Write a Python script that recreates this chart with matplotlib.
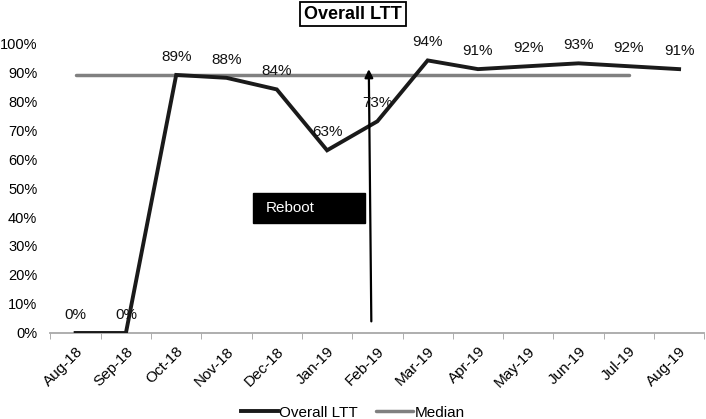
import matplotlib
matplotlib.use("Agg")
import matplotlib.pyplot as plt
from matplotlib.patches import Rectangle
from matplotlib.ticker import FuncFormatter

months = ["Aug-18", "Sep-18", "Oct-18", "Nov-18", "Dec-18", "Jan-19", "Feb-19",
          "Mar-19", "Apr-19", "May-19", "Jun-19", "Jul-19", "Aug-19"]
overall_ltt = [0, 0, 89, 88, 84, 63, 73, 94, 91, 92, 93, 92, 91]
median_vals = [89] * 12  # Aug-18 .. Jul-19
yticks = list(range(0, 101, 10))

plt.rcParams['font.family'] = ['Liberation Sans', 'DejaVu Sans']

fig = plt.figure(figsize=(7.06, 4.19), dpi=100)
ax = fig.add_axes([0.0715, 0.2053, 0.926, 0.692])

x = list(range(len(months)))
ax.plot(range(len(median_vals)), [v / 100 for v in median_vals], color='#808080',
        lw=2.5, solid_capstyle='round', label='Median', zorder=2)
ax.plot(x, [v / 100 for v in overall_ltt], color='#1a1a1a', lw=2.8,
        solid_joinstyle='miter', label='Overall LTT', zorder=3)

for xi, v in zip(x, overall_ltt):
    ax.annotate(f"{v}%", (xi, v / 100), xytext=(0, 13), textcoords='offset points',
                ha='center', va='center', fontsize=11, color='#111111', zorder=5)

# Reboot annotation
ax.add_patch(Rectangle((3.52, 0.379), 2.24, 0.104, facecolor='black',
                       edgecolor='black', zorder=4))
ax.text(3.78, 0.431, "Reboot", color='white', fontsize=11, va='center', ha='left', zorder=5)
ax.annotate("", xy=(5.83, 0.91), xytext=(5.88, 0.04),
            arrowprops=dict(arrowstyle='-|>', color='black', lw=1.6,
                            mutation_scale=12, shrinkA=0, shrinkB=0), zorder=4)

ax.set_xlim(-0.5, 12.5)
ax.set_ylim(0, 1.0)
ax.set_yticks([v / 100 for v in yticks])
ax.yaxis.set_major_formatter(FuncFormatter(lambda v, p: f"{int(round(v * 100))}%"))
ax.set_xticks(x)
ax.set_xticklabels(months, rotation=45, ha='right', rotation_mode='anchor')
ax.set_xticks([i - 0.5 for i in range(len(months) + 1)], minor=True)
ax.tick_params(axis='x', which='major', length=0, pad=8, labelsize=11)
ax.tick_params(axis='x', which='minor', length=4, color='#a0a0a0', direction='out')
ax.tick_params(axis='y', length=0, pad=9.5, labelsize=10.5)

for s in ['top', 'right', 'left']:
    ax.spines[s].set_visible(False)
ax.spines['bottom'].set_color('#a8a8a8')
ax.spines['bottom'].set_linewidth(1.3)

fig.text(0.5, 0.966, "Overall LTT", ha='center', va='center', fontsize=13,
         fontweight='bold',
         bbox=dict(boxstyle='square,pad=0.2', facecolor='white', edgecolor='black', lw=1.3))

leg = fig.legend(handles=[ax.lines[1], ax.lines[0]], labels=['Overall LTT', 'Median'],
                 loc='center', bbox_to_anchor=(0.5, 0.015), ncol=2, frameon=False,
                 fontsize=11, handlelength=2.4, handletextpad=0.1, columnspacing=1.2)

fig.savefig("out.png", dpi=100)
